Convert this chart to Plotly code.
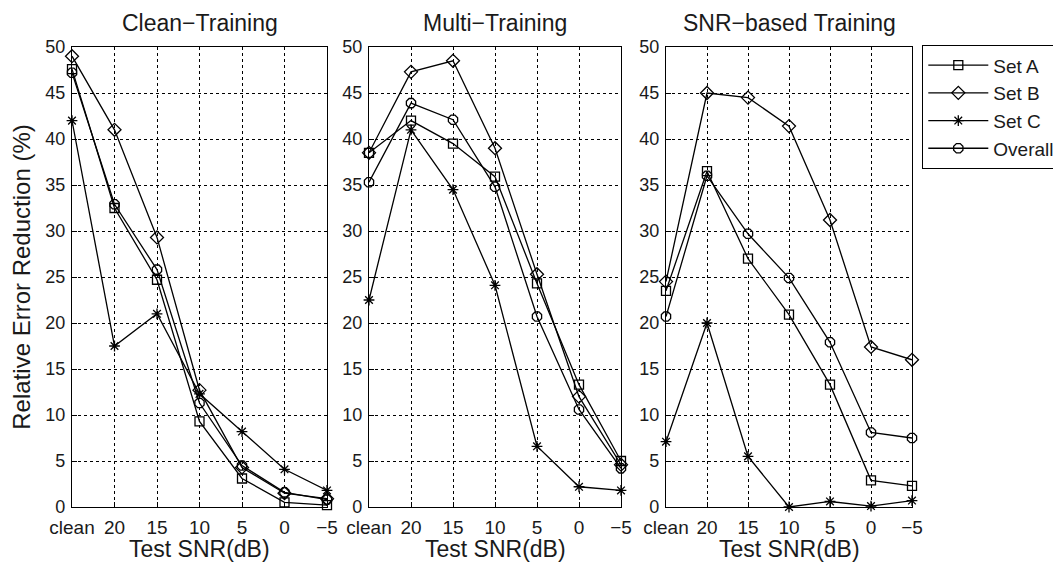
import plotly.graph_objects as go

# ---------------- data ----------------
x_labels = ["clean", "20", "15", "10", "5", "0", "\u22125"]
series_names = ["Set A", "Set B", "Set C", "Overall"]
panel_titles = ["Clean\u2212Training", "Multi\u2212Training", "SNR\u2212based Training"]

clean_set_a = [47.6, 32.5, 24.7, 9.3, 3.1, 0.5, 0.2]
clean_set_b = [49.0, 41.0, 29.3, 12.7, 4.3, 1.5, 0.9]
clean_set_c = [42.0, 17.5, 21.0, 12.3, 8.2, 4.1, 1.8]
clean_overall = [47.2, 32.9, 25.8, 11.3, 4.5, 1.6, 0.8]

multi_set_a = [38.5, 42.0, 39.5, 35.9, 24.3, 13.3, 5.0]
multi_set_b = [38.5, 47.3, 48.5, 39.0, 25.3, 12.0, 4.6]
multi_set_c = [22.5, 41.0, 34.5, 24.1, 6.6, 2.2, 1.8]
multi_overall = [35.3, 43.9, 42.1, 34.8, 20.7, 10.6, 4.2]

snr_set_a = [23.5, 36.5, 27.0, 20.9, 13.3, 2.9, 2.3]
snr_set_b = [24.5, 45.0, 44.5, 41.4, 31.2, 17.4, 16.0]
snr_set_c = [7.1, 20.0, 5.5, 0.0, 0.6, 0.1, 0.7]
snr_overall = [20.7, 36.0, 29.7, 24.9, 17.9, 8.1, 7.5]

panels_data = [
    [clean_set_a, clean_set_b, clean_set_c, clean_overall],
    [multi_set_a, multi_set_b, multi_set_c, multi_overall],
    [snr_set_a, snr_set_b, snr_set_c, snr_overall],
]

# ---------------- styling ----------------
W, H = 1061, 565
OFF = 8  # page body margin shifts the figure by 8 px right and down
FONT = "Liberation Sans, Arial, sans-serif"
TXT = "#1a1a1a"
symbols = ["square-open", "diamond-open", "asterisk-open", "octagon-open"]
sizes = [9, 10, 9, 10]
panel_px = [(72 - OFF, 327 - OFF), (369 - OFF, 621 - OFF), (666 - OFF, 912 - OFF)]
y_top_px, y_bot_px = 47 - OFF, 507 - OFF

fig = go.Figure()
xpos = list(range(len(x_labels)))

for i, data in enumerate(panels_data):
    xa = "x" if i == 0 else f"x{i+1}"
    ya = "y" if i == 0 else f"y{i+1}"
    for name, vals, sym, sz in zip(series_names, data, symbols, sizes):
        fig.add_trace(go.Scatter(
            x=xpos, y=vals, mode="lines+markers", name=name,
            showlegend=(i == 2), xaxis=xa, yaxis=ya, cliponaxis=False,
            line=dict(color="black", width=1.3),
            marker=dict(symbol=sym, size=sz, color="black",
                        line=dict(color="black", width=1.3)),
        ))

axis_common = dict(
    showgrid=True, gridcolor="black", griddash="dot", gridwidth=1,
    showline=True, linecolor="black", linewidth=1.3, mirror=True,
    ticks="inside", ticklen=5, tickcolor="black",
    zeroline=False, automargin=False,
    tickfont=dict(family=FONT, size=19, color=TXT),
)

layout_axes = {}
for i, (x0, x1) in enumerate(panel_px):
    xkey = "xaxis" if i == 0 else f"xaxis{i+1}"
    ykey = "yaxis" if i == 0 else f"yaxis{i+1}"
    ya = "y" if i == 0 else f"y{i+1}"
    xa = "x" if i == 0 else f"x{i+1}"
    layout_axes[xkey] = dict(
        axis_common, domain=[x0 / W, x1 / W], range=[0, 6],
        tickvals=xpos, ticktext=x_labels, anchor=ya, ticklabelstandoff=3,
    )
    ydict = dict(
        axis_common, domain=[1 - y_bot_px / H, 1 - y_top_px / H], range=[0, 50],
        tick0=0, dtick=5, anchor=xa, ticklabelstandoff=2,
        tickfont=dict(family=FONT, size=18, color=TXT),
    )
    if i == 0:
        ydict["title"] = dict(text="Relative Error Reduction (%)",
                              font=dict(family=FONT, size=24, color=TXT), standoff=11)
    layout_axes[ykey] = ydict

annotations = []
for (x0, x1), t in zip(panel_px, panel_titles):
    annotations.append(dict(
        text=t, x=(x0 + x1) / 2 / W, y=1 - (23 - OFF) / H, xref="paper", yref="paper",
        xanchor="center", yanchor="middle", showarrow=False,
        font=dict(family=FONT, size=23, color=TXT),
    ))
    # x-axis title of each panel
    annotations.append(dict(
        text="Test SNR(dB)", x=(x0 + x1) / 2 / W, y=1 - (549 - OFF) / H, xref="paper", yref="paper",
        xanchor="center", yanchor="middle", showarrow=False,
        font=dict(family=FONT, size=23, color=TXT),
    ))

fig.update_layout(
    width=W, height=H,
    margin=dict(l=0, r=0, t=0, b=0),
    paper_bgcolor="white", plot_bgcolor="white",
    font=dict(family=FONT, color=TXT),
    annotations=annotations,
    legend=dict(
        x=(922 - OFF) / W, y=1 - (45 - OFF) / H, xanchor="left", yanchor="top",
        bordercolor="black", borderwidth=1.3, bgcolor="white",
        font=dict(family=FONT, size=19, color=TXT),
        tracegroupgap=0, itemwidth=60,
    ),
    **layout_axes,
)

fig.write_html("out.html")
